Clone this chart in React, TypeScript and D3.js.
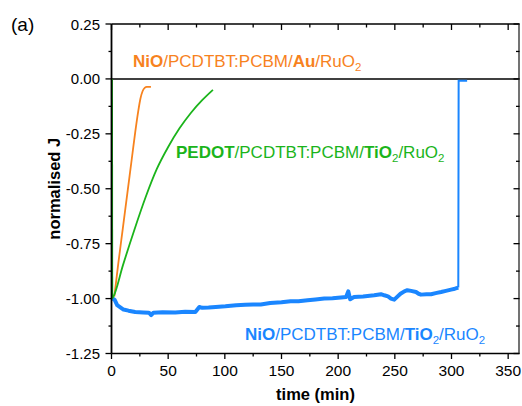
import React from "react";
import * as d3 from "d3";

const orangeT = [2.5, 6, 10, 14, 18, 21, 23.5, 25.5, 27.5, 29.5, 31, 34.8];
const orangeJ = [-0.99, -0.84, -0.68, -0.52, -0.36, -0.24, -0.15, -0.09, -0.055, -0.04, -0.036, -0.036];

const greenT = [0.4, 0.6, 1.8, 10, 20, 30, 40, 50, 60, 70, 80, 89.5];
const greenJ = [0, -1.0, -0.99, -0.85, -0.69, -0.54, -0.41, -0.31, -0.225, -0.155, -0.097, -0.05];

const blueT = [1, 2.7, 5, 10.6, 15, 20.9, 28, 33, 35, 37, 45, 56.3, 65, 74, 77.5, 80, 85.7, 92, 100.5, 110, 118, 125, 131.7, 140, 150, 158, 165, 173, 180, 187.7, 195, 202.4, 207, 208.9, 210.6, 214, 222, 231.8, 237.8, 240.7, 244, 246.6, 249.5, 252.5, 255, 258.4, 261, 264.3, 268.7, 271, 273.1, 278, 282, 286, 290.8, 295, 299.6, 303, 306, 306.3, 309, 313.8];
const blueJ = [-1.0, -1.005, -1.03, -1.05, -1.055, -1.061, -1.063, -1.064, -1.075, -1.064, -1.062, -1.063, -1.06, -1.061, -1.038, -1.042, -1.041, -1.038, -1.035, -1.03, -1.028, -1.027, -1.027, -1.02, -1.017, -1.012, -1.012, -1.008, -1.004, -1.0, -0.998, -0.995, -0.993, -0.967, -1.003, -0.993, -0.99, -0.985, -0.98, -0.985, -0.99, -1.0, -1.005, -0.99, -0.978, -0.967, -0.962, -0.965, -0.97, -0.978, -0.982, -0.98, -0.98, -0.975, -0.97, -0.965, -0.959, -0.955, -0.95, -0.008, -0.008, -0.008];

const xMajorTicks = [0, 50, 100, 150, 200, 250, 300, 350];
const xMinorTicks = [25, 75, 125, 175, 225, 275, 325];
const yMajorTicks = [0.25, 0, -0.25, -0.5, -0.75, -1.0, -1.25];
const yMinorTicks = [0.125, -0.125, -0.375, -0.625, -0.875, -1.125];

const ORANGE = "#F7821E";
const GREEN = "#1BB41B";
const BLUE = "#1A86FF";
const FONT = "'Liberation Sans', Arial, Helvetica, sans-serif";

export default function App() {
  const W = 522, H = 406;
  const x = d3.scaleLinear().domain([0, 360]).range([111.5, 519.5]);
  const y = d3.scaleLinear().domain([-1.25, 0.25]).range([353.5, 24]);
  const left = x(0), right = x(360), top = y(0.25), bottom = y(-1.25);

  const line = d3.line<[number, number]>().x((d) => x(d[0])).y((d) => y(d[1])).curve(d3.curveMonotoneX);
  const lineLin = d3.line<[number, number]>().x((d) => x(d[0])).y((d) => y(d[1]));
  const orange = orangeT.map((t, i) => [t, orangeJ[i]] as [number, number]);
  const green = greenT.map((t, i) => [t, greenJ[i]] as [number, number]);
  const blue = blueT.map((t, i) => [t, blueJ[i]] as [number, number]);
  const jump = blue.findIndex((d) => d[1] > -0.5);
  const blueNoisy = blue.slice(0, jump);
  const blueAfter = blue.slice(jump - 1);

  const fs = 17;
  const sub = 11.5;

  const label = (parts: { t: string; b?: boolean; s?: boolean }[]) =>
    parts.map((p, i) =>
      p.s ? (
        <tspan key={i} fontSize={sub} dy={4}>{p.t}</tspan>
      ) : (
        <tspan key={i} fontWeight={p.b ? "bold" : "normal"} dy={i > 0 && parts[i - 1].s ? -4 : 0}>{p.t}</tspan>
      )
    );

  return (
    <svg width={W} height={H} style={{ position: "absolute", left: 0, top: 0, background: "#fff" }} fontFamily={FONT}>
      <rect x={0} y={0} width={W} height={H} fill="#fff" />
      <line x1={left} x2={right} y1={y(0)} y2={y(0)} stroke="#000" strokeWidth={1.5} />
      <path d={lineLin(blueNoisy) || ""} fill="none" stroke={BLUE} strokeWidth={4} strokeLinejoin="round" />
      <path d={lineLin(blueAfter) || ""} fill="none" stroke={BLUE} strokeWidth={2} />
      <path d={line(orange) || ""} fill="none" stroke={ORANGE} strokeWidth={1.8} />
      <path d={lineLin(green.slice(0, 2)) || ""} fill="none" stroke={GREEN} strokeWidth={2} />
      <path d={line(green.slice(1)) || ""} fill="none" stroke={GREEN} strokeWidth={1.8} />
      <line x1={left} x2={left} y1={top} y2={bottom} stroke="#000" strokeWidth={1.8} />
      <line x1={left} x2={right} y1={bottom} y2={bottom} stroke="#000" strokeWidth={1.5} />
      <line x1={left} x2={right} y1={top} y2={top} stroke="#000" strokeWidth={1.5} />
      <line x1={right - 0.5} x2={right - 0.5} y1={top} y2={bottom} stroke="#444" strokeWidth={1.5} />
      {xMajorTicks.map((t) => (
        <g key={"xM" + t}>
          <line x1={x(t)} x2={x(t)} y1={bottom} y2={bottom + 5.5} stroke="#000" strokeWidth={1.3} />
          <line x1={x(t)} x2={x(t)} y1={top} y2={top + 6} stroke="#000" strokeWidth={1.3} />
          <text x={x(t)} y={375.5} textAnchor="middle" fontSize={15.5}>{t}</text>
        </g>
      ))}
      {xMinorTicks.map((t) => (
        <g key={"xm" + t}>
          <line x1={x(t)} x2={x(t)} y1={bottom} y2={bottom + 3} stroke="#000" strokeWidth={1.3} />
          <line x1={x(t)} x2={x(t)} y1={top} y2={top + 3.5} stroke="#000" strokeWidth={1.3} />
        </g>
      ))}
      {yMajorTicks.map((v) => (
        <g key={"yM" + v}>
          <line x1={left - 6} x2={left} y1={y(v)} y2={y(v)} stroke="#000" strokeWidth={1.3} />
          <line x1={right - 6} x2={right} y1={y(v)} y2={y(v)} stroke="#000" strokeWidth={1.3} />
          <text x={100} y={y(v) + 5.5} textAnchor="end" fontSize={15}>{d3.format(".2f")(v).replace("−", "-")}</text>
        </g>
      ))}
      {yMinorTicks.map((v) => (
        <g key={"ym" + v}>
          <line x1={left - 3} x2={left} y1={y(v)} y2={y(v)} stroke="#000" strokeWidth={1.3} />
          <line x1={right - 3.5} x2={right} y1={y(v)} y2={y(v)} stroke="#000" strokeWidth={1.3} />
        </g>
      ))}
      <text x={315.5} y={399.5} textAnchor="middle" fontSize={16.5} fontWeight="bold">time (min)</text>
      <text transform={`translate(60,${(top + bottom) / 2}) rotate(-90)`} textAnchor="middle" fontSize={16.5} fontWeight="bold">normalised J</text>
      <text x={11} y={31} fontSize={19}>(a)</text>
      <text x={x(19)} y={y(0.056)} fontSize={fs} fill={ORANGE}>
        {label([{ t: "NiO", b: true }, { t: "/PCDTBT:PCBM/" }, { t: "Au", b: true }, { t: "/RuO" }, { t: "2", s: true }])}
      </text>
      <text x={x(56.9)} y={y(-0.361)} fontSize={fs} fill={GREEN}>
        {label([{ t: "PEDOT", b: true }, { t: "/PCDTBT:PCBM/" }, { t: "TiO", b: true }, { t: "2", s: true }, { t: "/RuO" }, { t: "2", s: true }])}
      </text>
      <text x={x(117.8)} y={y(-1.188)} fontSize={fs} fill={BLUE}>
        {label([{ t: "NiO", b: true }, { t: "/PCDTBT:PCBM/" }, { t: "TiO", b: true }, { t: "2", s: true }, { t: "/RuO" }, { t: "2", s: true }])}
      </text>
    </svg>
  );
}
